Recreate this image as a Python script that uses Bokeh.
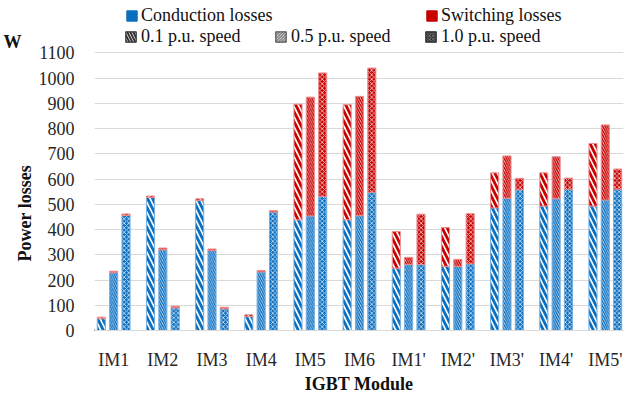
from bokeh.plotting import figure
from bokeh.models import (ColumnDataSource, FixedTicker, Legend, LegendItem, Title, Range1d,
                          LinearAxis)
from bokeh.embed import file_html
from bokeh.resources import INLINE

modules = ["IM1", "IM2", "IM3", "IM4", "IM5", "IM6", "IM1'", "IM2'", "IM3'", "IM4'", "IM5'"]
speeds = ["0.1 p.u. speed", "0.5 p.u. speed", "1.0 p.u. speed"]

# Conduction losses (W)
cond_01 = [47, 527, 516, 55, 439, 439, 247, 254, 486, 493, 493]
cond_05 = [229, 320, 317, 232, 454, 455, 262, 254, 524, 522, 517]
cond_10 = [456, 90, 86, 470, 531, 548, 262, 264, 558, 560, 560]
# Switching losses (W)
sw_01 = [6, 6, 6, 7, 458, 456, 145, 154, 139, 132, 248]
sw_05 = [6, 7, 6, 6, 471, 473, 28, 28, 168, 167, 298]
sw_10 = [6, 6, 6, 5, 490, 492, 199, 199, 45, 44, 80]

y_ticks = list(range(0, 1101, 100))
unit_label = "W"
unit_pos = 1143  # value level at which the unit sits, above the top tick

BLUE = "#0B6FC0"
RED = "#C80000"
BLUE_EDGE = "#74AEE0"
RED_EDGE = "#EC8C8C"
FONT = "Liberation Serif"
TXT = "#111111"

p = figure(width=630, height=396, output_backend="svg", toolbar_location=None,
           x_range=Range1d(-0.39, 10.37), y_range=Range1d(0, 1308),
           min_border_left=87, min_border_right=7, min_border_top=0, min_border_bottom=58)
p.outline_line_color = None
p.background_fill_color = "white"
p.border_fill_color = "white"

styles = [
    dict(base="white", hatch_pattern="left_diagonal_line", hatch_scale=10, hatch_weight=2.8, white_hatch=False),
    dict(base="white", hatch_pattern="left_diagonal_line", hatch_scale=4.5, hatch_weight=1.5, white_hatch=False),
    dict(base="color", hatch_pattern="diagonal_cross", hatch_scale=4.5, hatch_weight=0.7, white_hatch=True),
]
conds = [cond_01, cond_05, cond_10]
sws = [sw_01, sw_05, sw_10]
offsets = [-0.251, 0.0, 0.251]
bw = 0.165

for k in range(3):
    st = styles[k]
    xs = [i + offsets[k] for i in range(len(modules))]
    tops = [c + s for c, s in zip(conds[k], sws[k])]
    src = ColumnDataSource(dict(x=xs, cond=conds[k], total=tops))
    for (b, t, col, edge) in [(None, "cond", BLUE, BLUE_EDGE), ("cond", "total", RED, RED_EDGE)]:
        fill = col if st["base"] == "color" else "white"
        hcol = "white" if st["white_hatch"] else col
        p.vbar(x="x", bottom=(b if b else 0), top=t, width=bw, source=src,
               fill_color=fill, hatch_pattern=st["hatch_pattern"], hatch_color=hcol,
               hatch_scale=st["hatch_scale"], hatch_weight=st["hatch_weight"],
               line_color=edge, line_width=1)

# axes
p.xaxis.ticker = FixedTicker(ticks=list(range(len(modules))))
p.xaxis.major_label_overrides = {i: m for i, m in enumerate(modules)}
p.yaxis.ticker = FixedTicker(ticks=y_ticks)
p.ygrid.ticker = FixedTicker(ticks=y_ticks)
for ax in [p.xaxis[0], p.yaxis[0]]:
    ax.major_tick_line_color = None
    ax.minor_tick_line_color = None
    ax.major_label_text_font = FONT
    ax.major_label_text_font_size = "18px"
    ax.major_label_text_color = "#262626"
p.yaxis.axis_line_color = None
p.yaxis.major_label_standoff = 14
p.xaxis.axis_line_color = "#D9D9D9"
p.xaxis.major_label_standoff = 13
p.xaxis.axis_label = "IGBT Module"
p.xaxis.axis_label_text_font = FONT
p.xaxis.axis_label_text_font_size = "18px"
p.xaxis.axis_label_text_font_style = "bold"
p.xaxis.axis_label_text_color = TXT
p.xaxis.axis_label_standoff = 1
p.xgrid.grid_line_color = None
p.ygrid.grid_line_color = "#D9D9D9"
p.ygrid.grid_line_width = 1

ytitle = Title(text="Power losses", align="left", offset=69, standoff=2,
               text_font=FONT, text_font_size="18px", text_font_style="bold", text_color=TXT)
p.add_layout(ytitle, "left")

# unit "W" shown as a tick label of an outer, line-less axis
unit_axis = LinearAxis(ticker=FixedTicker(ticks=[unit_pos]),
                       major_label_overrides={unit_pos: unit_label},
                       axis_line_color=None, major_tick_line_color=None, minor_tick_line_color=None,
                       major_label_standoff=-16, major_label_text_font=FONT,
                       major_label_text_font_size="18px", major_label_text_font_style="bold",
                       major_label_text_color=TXT)
p.add_layout(unit_axis, "left")

# legend proxy renderers (single bar placed outside the visible x range)
off_x = [-20]
off_top = [1]
r_cond = p.vbar(x=off_x, top=off_top, width=bw, fill_color=BLUE, line_color=BLUE)
r_sw = p.vbar(x=off_x, top=off_top, width=bw, fill_color=RED, line_color=RED)
LG = "#333333"
r_s = [
    p.vbar(x=off_x, top=off_top, width=bw, fill_color="white", hatch_pattern="left_diagonal_line",
           hatch_color=LG, hatch_scale=6, hatch_weight=2.0, line_color=LG, line_width=1.2),
    p.vbar(x=off_x, top=off_top, width=bw, fill_color="white", hatch_pattern="left_diagonal_line",
           hatch_color="#555555", hatch_scale=3, hatch_weight=0.9, line_color="#555555", line_width=1.2),
    p.vbar(x=off_x, top=off_top, width=bw, fill_color="#2A2A2A", hatch_pattern="diagonal_cross",
           hatch_color="#BBBBBB", hatch_scale=3.5, hatch_weight=0.6, line_color="#2A2A2A", line_width=1.2),
]

def mk_legend(items, loc, standoff, lw):
    return Legend(items=items, location=loc, orientation="horizontal",
                  glyph_width=13, glyph_height=13, label_standoff=standoff, label_width=lw,
                  label_height=20, spacing=0, padding=0, margin=0,
                  label_text_font=FONT, label_text_font_size="18px", label_text_color=TXT,
                  border_line_color=None, background_fill_alpha=0)

leg1 = mk_legend([LegendItem(label="Conduction losses", renderers=[r_cond]),
                  LegendItem(label="Switching losses", renderers=[r_sw])], (31, 304), 3, 284)
leg2 = mk_legend([LegendItem(label=speeds[i], renderers=[r_s[i]]) for i in range(3)], (30, 283), 4, 133)
p.add_layout(leg1, "center")
p.add_layout(leg2, "center")

open("out.html", "w").write(file_html(p, INLINE))
